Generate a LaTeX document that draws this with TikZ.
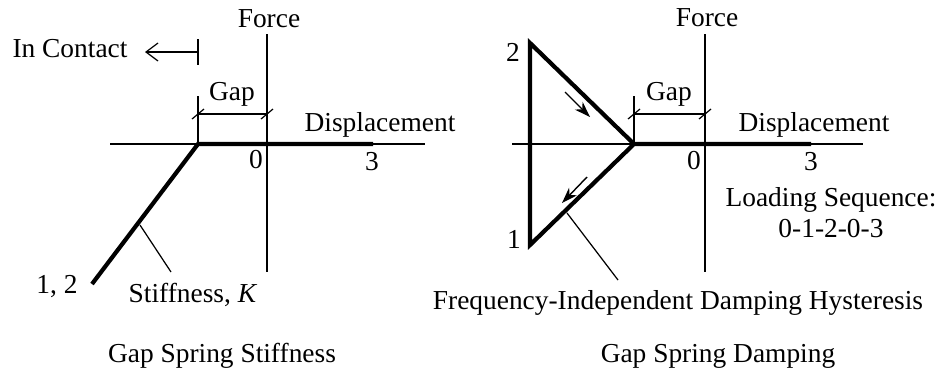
\documentclass[tikz,border=0pt]{standalone}
\usepackage{fontspec}
\setmainfont{Liberation Serif}
\usetikzlibrary{positioning,arrows.meta}

\begin{document}
\begin{tikzpicture}[
    x=0.02cm, y=-0.02cm,
    font=\fontsize{15.6}{18}\selectfont,
    axis/.style={line width=0.7pt},
    curve/.style={line width=2.4pt, line join=miter},
    leader/.style={line width=0.7pt},
    dimline/.style={line width=0.7pt},
    flow/.style={line width=0.8pt, -{Stealth[length=3.2mm,width=2.2mm]}},
    contact/.style={line width=0.7pt, -{Straight Barb[length=2.4mm,width=3.6mm]}},
    lbl/.style={anchor=base, inner sep=0pt}
]
\useasboundingbox (0,0) rectangle (942,373);

% ---- left: gap spring stiffness ----
\coordinate (sL) at (110,144);
\coordinate (sR) at (425,144);
\coordinate (sT) at (267,34);
\coordinate (sB) at (267,272);
\coordinate (sGap) at (198,144);
\coordinate (s3) at (373,144);
\coordinate (s12) at (92,284);

\draw[axis] (sL) -- (sR);
\draw[axis] (sT) -- (sB);
\draw[curve] (s12) -- (sGap) -- (s3);

\node[lbl] (sForce) at (269,27) {Force};
\node[lbl] (sDisp) at (380,131) {Displacement};
\node[lbl] (sZero) at (256,168) {0};
\node[lbl] (sThree) at (372,170) {3};
\node[lbl] (sOneTwo) at (57,293) {1, 2};

% gap and contact marks
\coordinate (sGapTop) at (198,96);
\coordinate (sDimL) at (198,114);
\coordinate (sDimR) at (267,114);
\draw[dimline] (sGap) -- (sGapTop);
\draw[dimline] (sDimL) -- (sDimR);
\draw[dimline] ([shift={(-6,5)}]sDimL) -- ([shift={(6,-5)}]sDimL);
\draw[dimline] ([shift={(-6,5)}]sDimR) -- ([shift={(6,-5)}]sDimR);
\node[lbl] (sGapTxt) at (232,100) {Gap};

\coordinate (sCtop) at (198,39);
\coordinate (sCbot) at (198,65);
\coordinate (sCmid) at (198,52);
\coordinate (sCtip) at (145,52);
\draw[dimline] (sCtop) -- (sCbot);
\draw[contact] (sCmid) -- (sCtip);
\node[lbl] (sContact) at (70,57) {In Contact};

% stiffness leader
\coordinate (sKon) at (140,225);
\coordinate (sKend) at (171,272);
\draw[leader] (sKon) -- (sKend);
\node[lbl] (sK) at (193,302) {Stiffness, \textit{K}};

\node[lbl] (sTitle) at (222,362) {Gap Spring Stiffness};

% ---- right: gap spring damping ----
\coordinate (dL) at (512,144);
\coordinate (dR) at (863,144);
\coordinate (dT) at (705,34);
\coordinate (dB) at (705,272);
\coordinate (dGap) at (634,144);
\coordinate (d3) at (811,144);
\coordinate (d2) at (530,43);
\coordinate (d1) at (530,245);

\draw[axis] (dL) -- (dR);
\draw[axis] (dT) -- (dB);
\draw[curve] (d3) -- (dGap) -- (d2) -- (d1) -- (dGap);

\node[lbl] (dForce) at (707,26) {Force};
\node[lbl] (dDisp) at (814,131) {Displacement};
\node[lbl] (dZero) at (694,169) {0};
\node[lbl] (dThree) at (811,170) {3};
\node[lbl] (dTwo) at (513,61) {2};
\node[lbl] (dOne) at (514,248) {1};

% gap marks
\coordinate (dGapTop) at (634,96);
\coordinate (dDimL) at (634,114);
\coordinate (dDimR) at (705,114);
\draw[dimline] (dGap) -- (dGapTop);
\draw[dimline] (dDimL) -- (dDimR);
\draw[dimline] ([shift={(-6,5)}]dDimL) -- ([shift={(6,-5)}]dDimL);
\draw[dimline] ([shift={(-6,5)}]dDimR) -- ([shift={(6,-5)}]dDimR);
\node[lbl] (dGapTxt) at (669,100) {Gap};

% loading direction
\coordinate (dA1) at (565,92);
\coordinate (dA2) at (590,117);
\coordinate (dB1) at (587,177);
\coordinate (dB2) at (562,203);
\draw[flow] (dA1) -- (dA2);
\draw[flow] (dB1) -- (dB2);

\node[lbl] (dSeq) at (831,206) {Loading Sequence:};
\node[lbl, below=18pt of dSeq.base, anchor=base] (dSeqVal) {0-1-2-0-3};

% hysteresis leader
\coordinate (dHon) at (567,213);
\coordinate (dHend) at (618,280);
\draw[leader] (dHon) -- (dHend);
\node[lbl] (dHyst) at (678,309) {Frequency-Independent Damping Hysteresis};

\node[lbl] (dTitle) at (718,362) {Gap Spring Damping};

\end{tikzpicture}
\end{document}
